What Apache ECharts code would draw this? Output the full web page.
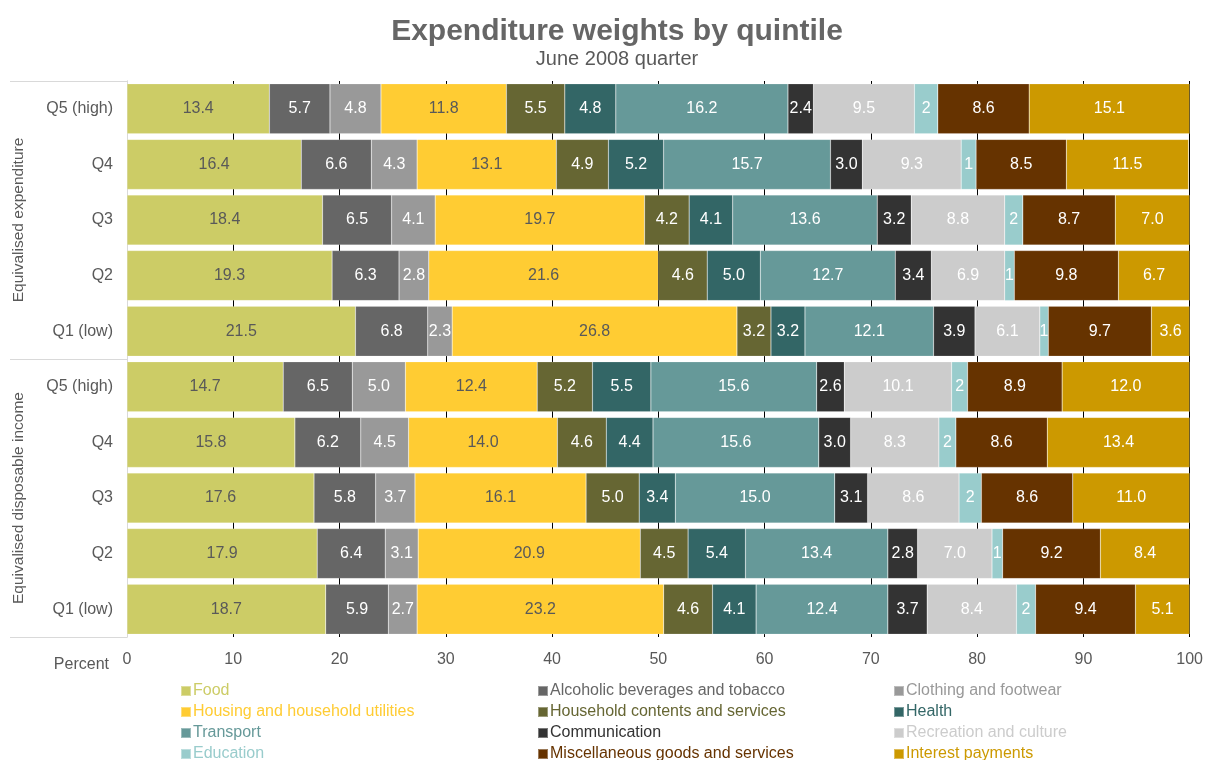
<!DOCTYPE html>
<html>
<head>
<meta charset="utf-8">
<script src="https://cdn.jsdelivr.net/npm/echarts@6/dist/echarts.min.js"></script>
<style>
  html, body { margin: 0; padding: 0; background: #fff; }
  #chartQuintile { width: 1206px; height: 760px; }
</style>
</head>
<body>
<div id="chartQuintile"></div>
<script>
    // rows top to bottom
    var quintiles = ['Q5 (high)', 'Q4', 'Q3', 'Q2', 'Q1 (low)', 'Q5 (high)', 'Q4', 'Q3', 'Q2', 'Q1 (low)'];
    var groups = ['Equivalised expenditure', 'Equivalised disposable income'];
    var xTicks = [0, 10, 20, 30, 40, 50, 60, 70, 80, 90, 100];

    var seriesNames = ['Food', 'Alcoholic beverages and tobacco', 'Clothing and footwear',
      'Housing and household utilities', 'Household contents and services', 'Health',
      'Transport', 'Communication', 'Recreation and culture',
      'Education', 'Miscellaneous goods and services', 'Interest payments'];

    var food          = [13.4, 16.4, 18.4, 19.3, 21.5, 14.7, 15.8, 17.6, 17.9, 18.7];
    var alcohol       = [5.7, 6.6, 6.5, 6.3, 6.8, 6.5, 6.2, 5.8, 6.4, 5.9];
    var clothing      = [4.8, 4.3, 4.1, 2.8, 2.3, 5.0, 4.5, 3.7, 3.1, 2.7];
    var housing       = [11.8, 13.1, 19.7, 21.6, 26.8, 12.4, 14.0, 16.1, 20.9, 23.2];
    var contents      = [5.5, 4.9, 4.2, 4.6, 3.2, 5.2, 4.6, 5.0, 4.5, 4.6];
    var health        = [4.8, 5.2, 4.1, 5.0, 3.2, 5.5, 4.4, 3.4, 5.4, 4.1];
    var transport     = [16.2, 15.7, 13.6, 12.7, 12.1, 15.6, 15.6, 15.0, 13.4, 12.4];
    var communication = [2.4, 3.0, 3.2, 3.4, 3.9, 2.6, 3.0, 3.1, 2.8, 3.7];
    var recreation    = [9.5, 9.3, 8.8, 6.9, 6.1, 10.1, 8.3, 8.6, 7.0, 8.4];
    var education     = [2.2, 1.4, 1.7, 0.9, 0.8, 1.5, 1.6, 2.1, 1.0, 1.8];
    var misc          = [8.6, 8.5, 8.7, 9.8, 9.7, 8.9, 8.6, 8.6, 9.2, 9.4];
    var interest      = [15.1, 11.5, 7.0, 6.7, 3.6, 12.0, 13.4, 11.0, 8.4, 5.1];

    var seriesValues = [food, alcohol, clothing, housing, contents, health,
      transport, communication, recreation, education, misc, interest];

    var seriesColors = ['#CCCC66', '#666666', '#999999', '#FFCC33', '#666633', '#336666',
      '#669999', '#333333', '#CCCCCC', '#99CCCC', '#663300', '#CC9900'];
    var labelColors = ['#595959', '#fff', '#fff', '#595959', '#fff', '#fff',
      '#fff', '#fff', '#fff', '#fff', '#fff', '#fff'];

    var series = new Array();
    seriesNames.forEach((name, i) => {
        series.push({
            name: name,
            type: 'bar',
            stack: 'total',
            barCategoryGap: '10%',
            itemStyle: { color: seriesColors[i], borderColor: 'rgba(255,255,255,0.35)', borderWidth: 0.5 },
            label: {
                show: true,
                color: labelColors[i],
                fontSize: 16,
                fontFamily: 'Liberation Sans',
                formatter: function (p) {
                    return name == 'Education' ? Math.round(p.value).toString() : p.value.toFixed(1);
                }
            },
            data: seriesValues[i]
        });
    });

    // legend: three columns, four rows, text in series colour
    function legendColumn(idxs, left) {
        return {
            orient: 'vertical',
            left: left,
            top: 682,
            height: 100,
            padding: 0,
            icon: 'rect',
            itemWidth: 10,
            itemHeight: 10,
            itemGap: 3,
            selectedMode: false,
            textStyle: { fontSize: 16, fontFamily: 'Liberation Sans', padding: [0, 0, 0, -3], lineHeight: 18 },
            data: idxs.map(function (i) {
                return { name: seriesNames[i], textStyle: { color: seriesColors[i] } };
            })
        };
    }

    var option = {
        animation: false,
        title: {
            text: 'Expenditure weights by quintile',
            subtext: 'June 2008 quarter',
            left: 612,
            textAlign: 'center',
            top: 12,
            itemGap: 2,
            textStyle: { fontSize: 30, fontWeight: 'bold', color: '#666666', fontFamily: 'Liberation Sans' },
            subtextStyle: { fontSize: 20, color: '#595959', fontFamily: 'Liberation Sans' }
        },
        legend: [
            legendColumn([0, 3, 6, 9], 180),
            legendColumn([1, 4, 7, 10], 537),
            legendColumn([2, 5, 8, 11], 893)
        ],
        grid: { left: 127, right: 16, top: 81, bottom: 123 },
        xAxis: {
            type: 'value',
            min: xTicks[0],
            max: xTicks[xTicks.length - 1],
            interval: 10,
            name: 'Percent',
            nameLocation: 'start',
            nameGap: 18,
            nameTextStyle: { color: '#595959', fontSize: 16, fontFamily: 'Liberation Sans', align: 'right', verticalAlign: 'top', padding: [20, 0, 0, 0] },
            axisLine: { show: false },
            axisTick: { show: false },
            axisLabel: { color: '#595959', fontSize: 16, fontFamily: 'Liberation Sans', margin: 15 },
            splitLine: { show: true, lineStyle: { color: '#000', width: 1 } }
        },
        yAxis: [
            {
                type: 'category',
                inverse: true,
                data: quintiles,
                axisLine: { show: true, lineStyle: { color: '#d9d9d9' } },
                axisTick: { show: false },
                axisLabel: { interval: 0, color: '#595959', fontSize: 16, fontFamily: 'Liberation Sans', margin: 14 }
            },
            {
                type: 'category',
                inverse: true,
                position: 'left',
                data: groups,
                axisLine: { show: true, lineStyle: { color: '#d9d9d9' } },
                axisTick: { show: true, interval: 0, length: 117, lineStyle: { color: '#d9d9d9' } },
                axisLabel: { interval: 0, hideOverlap: false, color: '#595959', fontSize: 15.5, fontFamily: 'Liberation Sans', rotate: 90, margin: 100 }
            }
        ],
        series: series
    };

    var myChart = echarts.init(document.getElementById('chartQuintile'));
    option && myChart.setOption(option, true);
</script>
</body>
</html>
